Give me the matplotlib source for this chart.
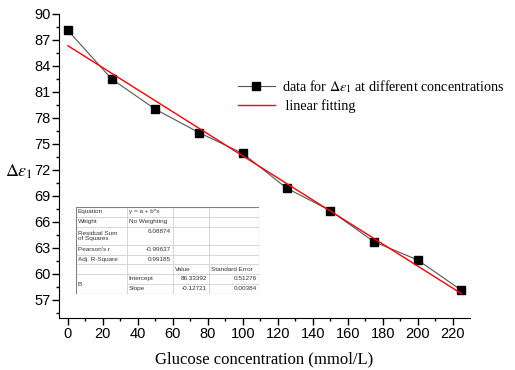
import matplotlib
matplotlib.use("Agg")
import matplotlib.pyplot as plt
import numpy as np
from matplotlib.ticker import MultipleLocator

# glucose concentration (mmol/L) and measured delta epsilon_1
conc = [0, 25, 50, 75, 100, 125, 150, 175, 200, 225]
deps = [88.1, 82.5, 79.0, 76.3, 73.9, 69.9, 67.3, 63.7, 61.6, 58.1]

# linear fit results shown in the inset table
intercept = 86.33392
slope = -0.12721
intercept_err = 0.51276
slope_err = 0.00384
rss = 6.08874
pearson_r = -0.99637
adj_r2 = 0.99185

plt.rcParams["mathtext.fontset"] = "stix"

fig = plt.figure(figsize=(5.15, 3.7), dpi=100)
ax = fig.add_axes([59 / 515, 1 - 318 / 370, 411 / 515, 304 / 370])

fit_x = np.array([conc[0], conc[-1]])
ax.plot(conc, deps, color="#555555", lw=0.8, marker="s", ms=6,
        mfc="black", mec="black",
        label=r"data for $\Delta\varepsilon_1$ at different concentrations")
ax.plot(fit_x, intercept + slope * fit_x, color="red", lw=1.0,
        label=" linear fitting")

ax.set_xlim(-5.1, 229.9)
ax.set_ylim(54.9, 90)
ax.xaxis.set_major_locator(MultipleLocator(20))
ax.xaxis.set_minor_locator(MultipleLocator(10))
ax.yaxis.set_major_locator(MultipleLocator(3))
ax.yaxis.set_minor_locator(MultipleLocator(1.5))
ax.spines["top"].set_visible(False)
ax.spines["right"].set_visible(False)
ax.tick_params(which="major", direction="out", length=5, width=1,
               labelsize=10.5, pad=1.2)
ax.tick_params(which="minor", direction="out", length=2.5, width=1)
for lab in ax.get_xticklabels() + ax.get_yticklabels():
    lab.set_fontfamily("Liberation Sans")

ax.set_xlabel("Glucose concentration (mmol/L)", family="Liberation Serif",
              fontsize=12, labelpad=8)
ax.set_ylabel(r"$\Delta\varepsilon_1$", fontsize=13, rotation=0,
              va="center", ha="center")
ax.yaxis.set_label_coords(-0.097, 0.48)

ax.legend(loc="upper left", bbox_to_anchor=(0.404, 0.832), frameon=False,
          handlelength=2.6, handletextpad=0.5, labelspacing=0.35,
          prop={"family": "Liberation Serif", "size": 10.2})

# inset table with fit statistics (drawn in pixel units)
tab = fig.add_axes([76 / 515, 1 - 294 / 370, 183 / 515, 87 / 370])
tab.set_xlim(0, 183.3)
tab.set_ylim(87, 0)
tab.axis("off")
cols = [0, 50.7, 97.3, 133.3, 183.3]
rows = [0, 10, 20, 38, 48, 57.4, 67, 76.7, 87]
line_c = "#d0d0d0"
for y in rows[1:-1]:
    x0 = cols[1] if y == rows[7] else 0
    tab.plot([x0, cols[-1]], [y, y], color=line_c, lw=0.6)
for x in cols[1:-1]:
    tab.plot([x, x], [0, 87], color=line_c, lw=0.6)
tab.plot([0, 183.3, 183.3, 0, 0], [0, 0, 87, 87, 0], color="#808080", lw=0.8)

fs = 4.6
fam = "Liberation Sans"
pad = 2


def cell_text(col, row, s, ha="left", va="center", span=1):
    y = (rows[row] + rows[row + span]) / 2
    if ha == "left":
        x = cols[col] + pad
    else:
        x = cols[col + 1] - pad
    tab.text(x, y, s, ha=ha, va=va, fontsize=fs, family=fam, color="#333333")


cell_text(0, 0, "Equation")
cell_text(1, 0, "y = a + b*x")
cell_text(0, 1, "Weight")
cell_text(1, 1, "No Weighting")
cell_text(0, 2, "Residual Sum\nof Squares")
tab.text(cols[2] - pad, rows[2] + 4.5, f"{rss:.5f}", ha="right", va="center",
         fontsize=fs, family=fam, color="#333333")
cell_text(0, 3, "Pearson's r")
cell_text(1, 3, f"{pearson_r:.5f}", ha="right")
cell_text(0, 4, "Adj. R-Square")
cell_text(1, 4, f"{adj_r2:.5f}", ha="right")
cell_text(2, 5, "Value")
cell_text(3, 5, "Standard Error")
cell_text(0, 6, "B", span=2)
cell_text(1, 6, "Intercept")
cell_text(2, 6, f"{intercept:.5f}", ha="right")
cell_text(3, 6, f"{intercept_err:.5f}", ha="right")
cell_text(1, 7, "Slope")
cell_text(2, 7, f"{slope:.5f}", ha="right")
cell_text(3, 7, f"{slope_err:.5f}", ha="right")

fig.savefig("out.png", dpi=100)
